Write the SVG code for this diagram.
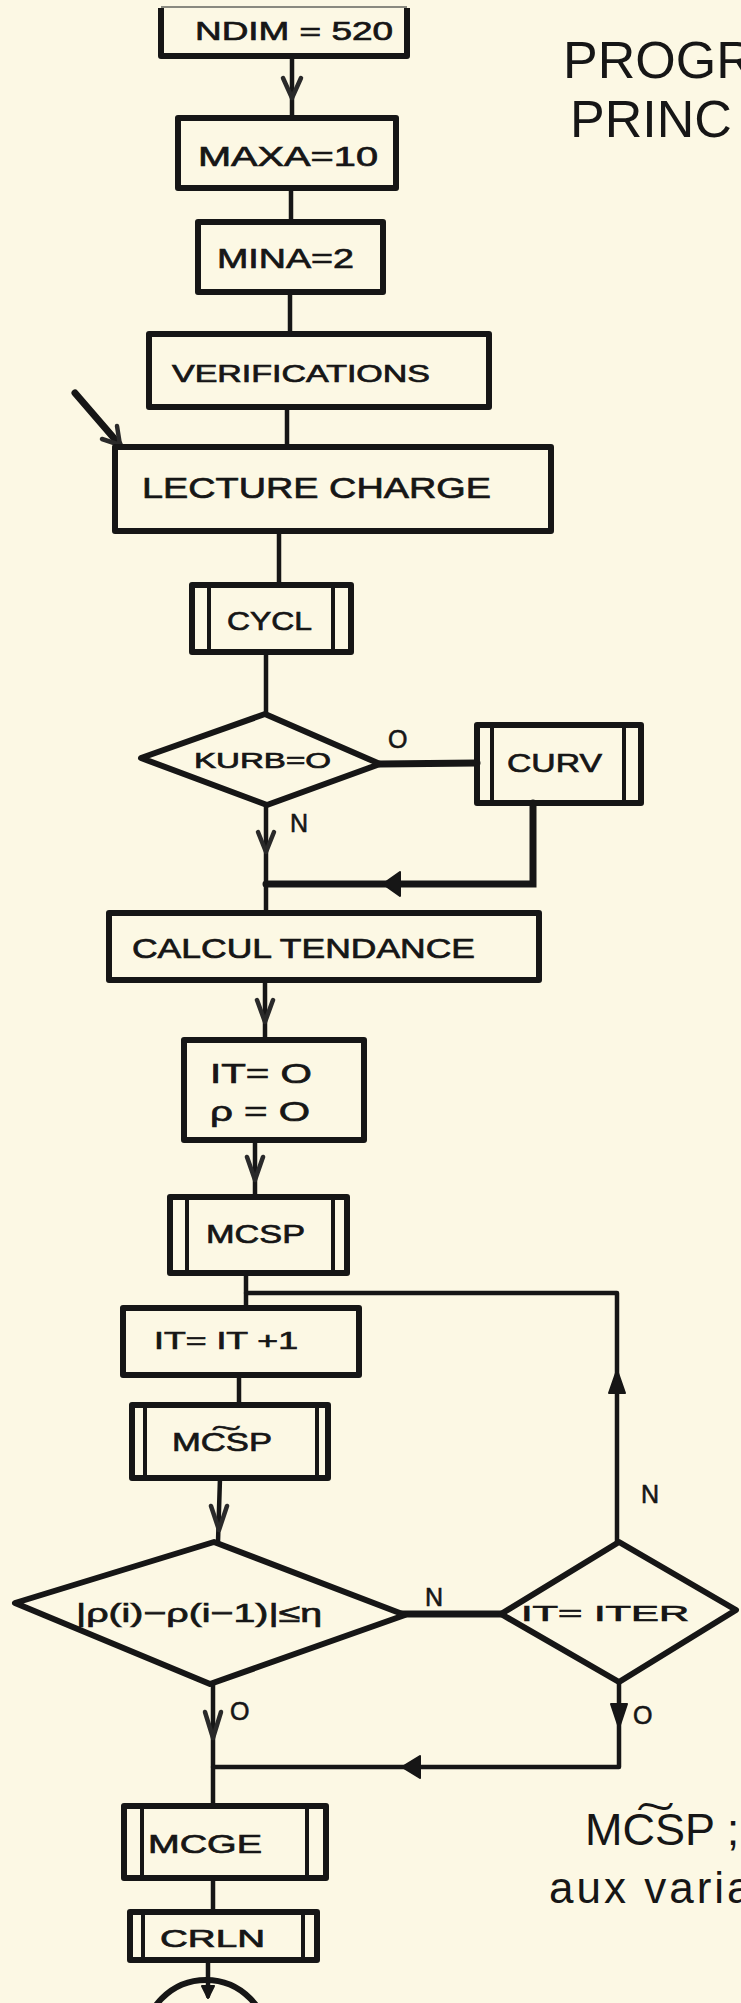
<svg xmlns="http://www.w3.org/2000/svg" width="741" height="2003" viewBox="0 0 741 2003">
<defs>
<style>
.bg{fill:#fcf8e4}
.box{fill:none;stroke:#161616;stroke-width:6;stroke-linejoin:round}
.inner{fill:none;stroke:#161616;stroke-width:4}
.ln{fill:none;stroke:#161616;stroke-width:4.5;stroke-linecap:round;stroke-linejoin:round}
.thick{fill:none;stroke:#161616;stroke-width:7;stroke-linecap:round}
.vh{fill:none;stroke:#2a2a2a;stroke-width:4.5;stroke-linecap:round;stroke-linejoin:round}
.fh{fill:#161616;stroke:#161616;stroke-width:2;stroke-linejoin:round}
.t{font-family:"Liberation Sans","DejaVu Sans",sans-serif;fill:#161616;stroke:#161616;stroke-width:0.7}
.thin{font-family:"Liberation Sans","DejaVu Sans",sans-serif;fill:#161616}
.lb{font-family:"Liberation Sans","DejaVu Sans",sans-serif;fill:#161616;stroke:#161616;stroke-width:0.6;font-size:25px}
</style>
</defs>
<rect class="bg" x="0" y="0" width="741" height="2003"/>

<g id="title">
<text class="thin" x="563" y="78" font-size="52">PROGR</text>
<text class="thin" x="570" y="137" font-size="52">PRINC</text>
</g>

<g id="connectors">
<line class="ln" x1="292" y1="56" x2="292" y2="118"/>
<path class="vh" d="M283,78 L292,98 L301,78"/>
<line class="ln" x1="291" y1="188" x2="291" y2="222"/>
<line class="ln" x1="290" y1="292" x2="290" y2="334"/>
<line class="ln" x1="287" y1="407" x2="287" y2="447"/>
<line class="thick" x1="75" y1="393" x2="119" y2="444"/>
<path class="vh" d="M102,439 L120,445 L117,426"/>
<line class="ln" x1="279" y1="531" x2="279" y2="585"/>
<line class="ln" x1="266" y1="652" x2="266" y2="714"/>
<line class="thick" x1="380" y1="764" x2="477" y2="763"/>
<line class="ln" x1="266" y1="805" x2="266" y2="913"/>
<path class="vh" d="M258,832 L266,852 L274,832"/>
<polyline class="thick" points="533,803 533,884 266,884"/>
<path class="fh" d="M400,872 L383,884 L400,896 Z"/>
<line class="ln" x1="265" y1="980" x2="265" y2="1040"/>
<path class="vh" d="M257,1000 L265,1022 L273,1000"/>
<line class="ln" x1="255" y1="1140" x2="255" y2="1197"/>
<path class="vh" d="M247,1157 L255,1180 L263,1157"/>
<line class="ln" x1="246" y1="1273" x2="246" y2="1308"/>
<polyline class="ln" points="246,1293 617,1293 617,1542"/>
<path class="fh" d="M609,1393 L617,1370 L625,1393 Z"/>
<line class="ln" x1="239" y1="1375" x2="239" y2="1405"/>
<line class="ln" x1="220" y1="1478" x2="218" y2="1542"/>
<path class="vh" d="M211,1506 L219,1530 L227,1506"/>
<line class="thick" x1="402" y1="1614" x2="501" y2="1614"/>
<line class="ln" x1="213" y1="1685" x2="213" y2="1806"/>
<path class="vh" d="M205,1712 L213,1738 L221,1712"/>
<polyline class="ln" points="619,1682 619,1767 213,1767"/>
<path class="fh" d="M611,1704 L619,1728 L627,1704 Z"/>
<path class="fh" d="M420,1756 L402,1767 L420,1778 Z"/>
<line class="ln" x1="213" y1="1878" x2="213" y2="1912"/>
<line class="ln" x1="208" y1="1960" x2="208" y2="1996"/>
<path class="fh" d="M202,1986 L208,1998 L214,1986 Z"/>
</g>

<g id="lbl-o1"><text class="lb" x="388" y="748">O</text></g>
<g id="lbl-n1"><text class="lb" x="290" y="832">N</text></g>
<g id="lbl-n2"><text class="lb" x="641" y="1503">N</text></g>
<g id="lbl-n3"><text class="lb" x="425" y="1606">N</text></g>
<g id="lbl-o2"><text class="lb" x="230" y="1720">O</text></g>
<g id="lbl-o3"><text class="lb" x="633" y="1724">O</text></g>

<g id="n-ndim">
<path class="box" d="M161,8 L161,56 L407,56 L407,8"/>
<line x1="161" y1="7" x2="407" y2="7" stroke="#8a8a80" stroke-width="2"/>
<text class="t" x="195" y="40" font-size="26" textLength="198" lengthAdjust="spacingAndGlyphs">NDIM = 520</text>
</g>

<g id="n-maxa">
<rect class="box" x="178" y="118" width="218" height="70"/>
<text class="t" x="198" y="166" font-size="28" textLength="180" lengthAdjust="spacingAndGlyphs">MAXA=10</text>
</g>

<g id="n-mina">
<rect class="box" x="198" y="222" width="185" height="70"/>
<text class="t" x="217" y="268" font-size="28" textLength="137" lengthAdjust="spacingAndGlyphs">MINA=2</text>
</g>

<g id="n-verif">
<rect class="box" x="149" y="334" width="340" height="73"/>
<text class="t" x="172" y="382" font-size="24" textLength="258" lengthAdjust="spacingAndGlyphs">VERIFICATIONS</text>
</g>

<g id="n-lecture">
<rect class="box" x="115" y="447" width="436" height="84"/>
<text class="t" x="142" y="498" font-size="30" textLength="349" lengthAdjust="spacingAndGlyphs">LECTURE CHARGE</text>
</g>

<g id="n-cycl">
<rect class="box" x="192" y="585" width="159" height="67"/>
<line class="inner" x1="209" y1="588" x2="209" y2="649"/>
<line class="inner" x1="333" y1="588" x2="333" y2="649"/>
<text class="t" x="227" y="630" font-size="26" textLength="85" lengthAdjust="spacingAndGlyphs">CYCL</text>
</g>

<g id="n-kurb">
<polygon class="box" points="141,758 265,714 380,764 267,805"/>
<text class="t" x="194" y="768" font-size="22" textLength="137" lengthAdjust="spacingAndGlyphs">KURB=O</text>
</g>

<g id="n-curv">
<rect class="box" x="477" y="725" width="164" height="78"/>
<line class="inner" x1="492" y1="728" x2="492" y2="800"/>
<line class="inner" x1="624" y1="728" x2="624" y2="800"/>
<text class="t" x="507" y="772" font-size="26" textLength="95" lengthAdjust="spacingAndGlyphs">CURV</text>
</g>

<g id="n-calcul">
<rect class="box" x="109" y="913" width="430" height="67"/>
<text class="t" x="132" y="958" font-size="27" textLength="343" lengthAdjust="spacingAndGlyphs">CALCUL TENDANCE</text>
</g>

<g id="n-init">
<rect class="box" x="184" y="1040" width="180" height="100"/>
<text class="t" x="210" y="1083" font-size="28" textLength="102" lengthAdjust="spacingAndGlyphs">IT= O</text>
<text class="t" x="210" y="1121" font-size="28" textLength="100" lengthAdjust="spacingAndGlyphs">ρ = O</text>
</g>

<g id="n-mcsp1">
<rect class="box" x="170" y="1197" width="177" height="76"/>
<line class="inner" x1="187" y1="1200" x2="187" y2="1270"/>
<line class="inner" x1="333" y1="1200" x2="333" y2="1270"/>
<text class="t" x="206" y="1243" font-size="26" textLength="99" lengthAdjust="spacingAndGlyphs">MCSP</text>
</g>

<g id="n-itinc">
<rect class="box" x="123" y="1308" width="236" height="67"/>
<text class="t" x="154" y="1349" font-size="24" textLength="144" lengthAdjust="spacingAndGlyphs">IT= IT +1</text>
</g>

<g id="n-mcsp2">
<rect class="box" x="132" y="1405" width="196" height="73"/>
<line class="inner" x1="145" y1="1408" x2="145" y2="1475"/>
<line class="inner" x1="317" y1="1408" x2="317" y2="1475"/>
<text class="t" x="172" y="1451" font-size="26" textLength="100" lengthAdjust="spacingAndGlyphs">MC͠SP</text>
</g>

<g id="n-conv">
<polygon class="box" points="15,1603 214,1542 405,1615 210,1684"/>
<text class="t" x="76" y="1622" font-size="26" textLength="246" lengthAdjust="spacingAndGlyphs">|ρ(i)−ρ(i−1)|≤η</text>
</g>

<g id="n-iter">
<polygon class="box" points="501,1614 619,1542 736,1610 619,1682"/>
<text class="t" x="521" y="1621" font-size="22" textLength="168" lengthAdjust="spacingAndGlyphs">IT= ITER</text>
</g>

<g id="n-mcge">
<rect class="box" x="124" y="1806" width="202" height="72"/>
<line class="inner" x1="142" y1="1809" x2="142" y2="1875"/>
<line class="inner" x1="307" y1="1809" x2="307" y2="1875"/>
<text class="t" x="148" y="1853" font-size="26" textLength="114" lengthAdjust="spacingAndGlyphs">MCGE</text>
</g>

<g id="n-crln">
<rect class="box" x="130" y="1912" width="187" height="48"/>
<line class="inner" x1="143" y1="1915" x2="143" y2="1957"/>
<line class="inner" x1="303" y1="1915" x2="303" y2="1957"/>
<text class="t" x="160" y="1947" font-size="24" textLength="105" lengthAdjust="spacingAndGlyphs">CRLN</text>
</g>

<g id="n-end">
<circle class="box" cx="206" cy="2042" r="62"/>
</g>

<g id="note">
<text class="thin" x="585" y="1845" font-size="45">MC͠SP ;</text>
<text class="thin" x="549" y="1903" font-size="44" letter-spacing="3">aux varia</text>
</g>
</svg>
